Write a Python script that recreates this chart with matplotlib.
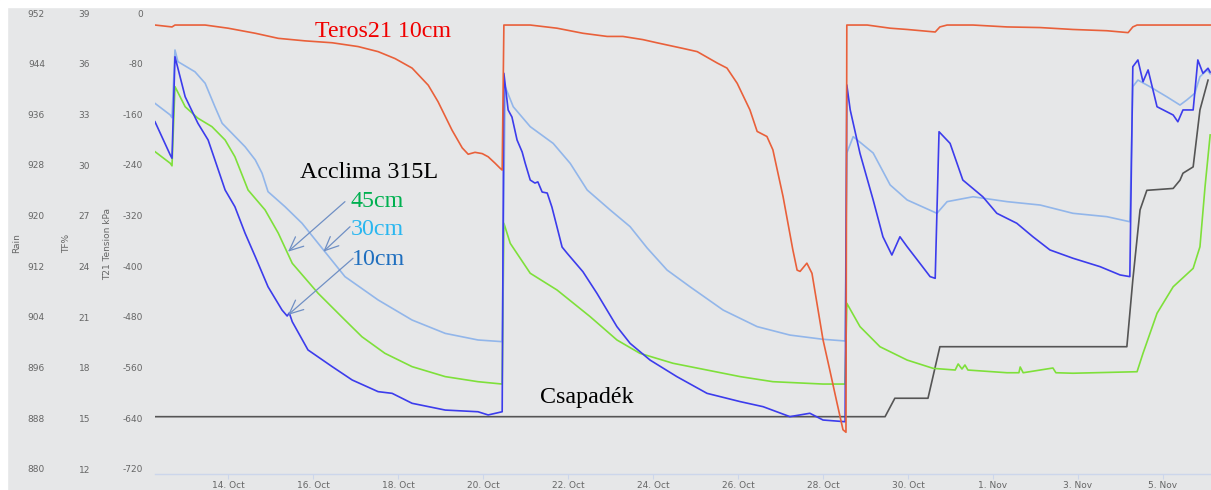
import matplotlib
matplotlib.use("Agg")
import matplotlib.pyplot as plt
from matplotlib.patches import Rectangle

plt.rcParams["axes.unicode_minus"] = False

# time axis: day counted from 1 Oct (32 = 1 Nov)
teros_day = [12.28, 12.68, 12.75, 13.46, 14.00, 14.64, 15.18, 15.81, 16.45, 17.06, 17.53, 17.93,
             18.33, 18.71, 18.94, 19.27, 19.51, 19.65, 19.81, 19.98, 20.12, 20.28, 20.40, 20.45,
             20.49, 21.11, 21.74, 22.35, 22.92, 23.29, 23.76, 24.09, 24.71, 25.04, 25.51, 25.74,
             25.98, 26.28, 26.45, 26.68, 26.82, 27.06, 27.29, 27.39, 27.46, 27.62, 27.74, 28.00,
             28.16, 28.33, 28.47, 28.54, 28.56, 29.04, 29.58, 29.98, 30.64, 30.75, 30.92, 31.53,
             32.33, 33.11, 33.88, 34.68, 35.18, 35.29, 35.39, 37.11]
teros_kpa = [-19, -22, -19, -19, -24, -32, -40, -44, -47, -53, -61, -72,
             -87, -114, -140, -185, -213, -223, -220, -222, -227, -237, -245, -248,
             -19, -19, -24, -32, -37, -37, -42, -47, -56, -61, -79, -87,
             -111, -153, -187, -195, -216, -290, -374, -406, -408, -395, -411, -516,
             -564, -616, -658, -662, -19, -19, -24, -26, -30, -22, -19, -19,
             -22, -23, -26, -28, -31, -22, -19, -19]

tf30_day = [12.28, 12.64, 12.68, 12.75, 12.82, 13.22, 13.46, 13.69, 13.86, 14.09, 14.40, 14.64,
            14.80, 14.94, 15.34, 15.74, 16.12, 16.75, 17.53, 18.33, 19.11, 19.88, 20.45, 20.52,
            20.71, 21.11, 21.65, 22.05, 22.45, 22.99, 23.46, 23.86, 24.33, 24.87, 25.65, 26.45,
            27.22, 28.00, 28.52, 28.56, 28.71, 29.18, 29.58, 29.98, 30.68, 30.92, 31.53, 32.33,
            33.11, 33.88, 34.68, 35.22, 35.29, 35.41, 35.69, 36.09, 36.40, 36.56, 36.75, 36.87,
            37.04, 37.11]
tf30_val = [33.65, 32.96, 32.80, 36.81, 36.12, 35.52, 34.84, 33.45, 32.47, 31.88, 31.08, 30.30,
            29.51, 28.42, 27.53, 26.55, 25.36, 23.39, 22.01, 20.82, 20.03, 19.64, 19.54, 34.64,
            33.45, 32.27, 31.28, 30.10, 28.52, 27.34, 26.35, 25.09, 23.78, 22.79, 21.41, 20.43,
            19.93, 19.68, 19.58, 30.71, 31.68, 30.71, 28.82, 27.93, 27.14, 27.83, 28.12, 27.83,
            27.63, 27.14, 26.94, 26.64, 34.64, 35.03, 34.64, 34.04, 33.55, 33.85, 34.25, 35.23,
            35.63, 35.40]

tf10_day = [12.28, 12.64, 12.68, 12.75, 12.99, 13.29, 13.53, 13.69, 13.93, 14.16, 14.40, 14.64,
            14.94, 15.27, 15.39, 15.44, 15.51, 15.88, 16.45, 16.92, 17.53, 17.86, 18.33, 19.11,
            19.88, 20.12, 20.45, 20.49, 20.59, 20.68, 20.80, 20.92, 20.99, 21.11, 21.22, 21.29,
            21.39, 21.51, 21.62, 21.74, 21.86, 21.98, 22.35, 22.68, 23.15, 23.46, 23.93, 24.56,
            25.27, 26.05, 26.59, 27.22, 27.69, 28.00, 28.52, 28.56, 28.64, 28.87, 29.18, 29.41,
            29.62, 29.81, 29.98, 30.28, 30.52, 30.64, 30.73, 30.99, 31.29, 31.76, 32.09, 32.56,
            32.94, 33.34, 33.88, 34.52, 34.99, 35.22, 35.29, 35.41, 35.53, 35.65, 35.86, 36.24,
            36.35, 36.47, 36.71, 36.82, 36.94, 37.06, 37.11]
tf10_val = [32.56, 30.59, 30.40, 36.41, 34.04, 32.47, 31.48, 30.30, 28.52, 27.53, 25.96, 24.57,
            22.79, 21.41, 21.06, 21.24, 20.72, 19.05, 18.06, 17.27, 16.58, 16.48, 15.89, 15.49,
            15.39, 15.20, 15.39, 35.43, 33.26, 32.84, 31.48, 30.77, 30.12, 29.11, 28.93, 29.00,
            28.40, 28.34, 27.51, 26.33, 25.14, 24.77, 23.68, 22.40, 20.43, 19.44, 18.45, 17.47,
            16.48, 15.99, 15.69, 15.10, 15.30, 14.90, 14.80, 34.74, 33.26, 30.69, 27.93, 25.75,
            24.67, 25.75, 25.16, 24.18, 23.39, 23.29, 31.97, 31.28, 29.11, 28.12, 27.14, 26.55,
            25.75, 24.97, 24.48, 23.98, 23.49, 23.39, 35.82, 36.22, 34.93, 35.63, 33.45, 32.96,
            32.56, 33.26, 33.26, 36.22, 35.43, 35.73, 35.50]

tf45_day = [12.28, 12.64, 12.68, 12.75, 12.99, 13.29, 13.62, 13.93, 14.16, 14.47, 14.87, 15.18,
            15.51, 16.12, 16.75, 17.15, 17.69, 18.33, 19.11, 19.88, 20.45, 20.49, 20.64, 21.11,
            21.74, 22.52, 23.15, 23.69, 24.47, 25.27, 26.05, 26.82, 28.00, 28.52, 28.56, 28.87,
            29.34, 29.98, 30.59, 31.11, 31.18, 31.27, 31.34, 31.41, 32.33, 32.61, 32.64, 32.71,
            33.41, 33.48, 33.88, 35.39, 35.53, 35.86, 36.24, 36.71, 36.87, 36.99, 37.11]
tf45_val = [30.79, 30.10, 29.95, 34.64, 33.45, 32.77, 32.27, 31.48, 30.49, 28.52, 27.34, 25.97,
            24.18, 22.40, 20.82, 19.83, 18.85, 18.06, 17.47, 17.17, 17.03, 26.55, 25.36, 23.59,
            22.60, 21.02, 19.64, 18.85, 18.26, 17.86, 17.47, 17.17, 17.03, 17.03, 21.81, 20.43,
            19.24, 18.45, 17.96, 17.86, 18.22, 17.92, 18.16, 17.86, 17.70, 17.70, 18.04, 17.70,
            17.98, 17.70, 17.67, 17.76, 18.85, 21.22, 22.79, 23.88, 25.16, 28.72, 31.78]

rain_day = [12.28, 29.46, 29.69, 30.47, 30.75, 35.15, 35.29, 35.46, 35.62, 36.24, 36.40, 36.47,
            36.71, 36.87, 37.06]
rain_mm = [888.26, 888.26, 891.17, 891.17, 899.31, 899.31, 909.84, 920.9, 924.0, 924.3, 925.6,
           926.7, 927.7, 936.7, 941.4]

tick_days = [14, 16, 18, 20, 22, 24, 26, 28, 30, 32, 34, 36]
tick_labels = ["14. Oct", "16. Oct", "18. Oct", "20. Oct", "22. Oct", "24. Oct", "26. Oct",
               "28. Oct", "30. Oct", "1. Nov", "3. Nov", "5. Nov"]
tension_ticks = list(range(-720, 1, 80))
tf_ticks = list(range(12, 40, 3))
rain_ticks = list(range(880, 953, 8))

grey = "#666666"
fig = plt.figure(figsize=(12.11, 4.90), dpi=100)
fig.patch.set_facecolor("#e6e7e8")
fig.add_artist(Rectangle((0, 0), 7 / 1211, 1, transform=fig.transFigure, color="white"))
fig.add_artist(Rectangle((0, 483 / 490), 1, 7 / 490, transform=fig.transFigure, color="white"))

ax = fig.add_axes([155 / 1211, 16 / 490, 1056 / 1211, 461 / 490])
ax_tf = ax.twinx()
ax_rain = ax.twinx()
ax.set_zorder(3)
ax_tf.set_zorder(2)
ax_rain.set_zorder(1)
for a in (ax, ax_tf, ax_rain):
    a.patch.set_visible(False)
    for s in a.spines.values():
        s.set_visible(False)

# lines
ax_rain.plot(rain_day, rain_mm, color="#555555", lw=1.2)
ax_tf.plot(tf45_day, tf45_val, color="#7ee03a", lw=1.2)
ax_tf.plot(tf30_day, tf30_val, color="#92b6ea", lw=1.2)
ax_tf.plot(tf10_day, tf10_val, color="#3c3cec", lw=1.2)
ax.plot(teros_day, teros_kpa, color="#e9603a", lw=1.2)

# x axis
ax.set_xlim(12.28, 37.13)
ax.set_xticks(tick_days, tick_labels)
ax.spines["bottom"].set_visible(True)
ax.spines["bottom"].set_color("#ccd6eb")
ax.spines["bottom"].set_linewidth(1)
ax.tick_params(axis="x", length=3.6, width=0.8, color="#ccd6eb", pad=1.4,
               labelsize=6.5, labelcolor=grey)

# three y axes on the left
ax.set_ylim(-727.9, 0)
ax.set_yticks(tension_ticks)
ax.tick_params(axis="y", length=0, pad=8.6, labelsize=6.5, labelcolor=grey)
ax.set_ylabel("T21 Tension kPa", fontsize=6.5, color=grey, va="center")
ax.yaxis.set_label_coords(-0.0445, 0.5)

ax_tf.set_ylim(11.704, 39)
ax_tf.yaxis.tick_left()
ax_tf.yaxis.set_label_position("left")
ax_tf.spines["left"].set_position(("outward", 38.2))
ax_tf.set_yticks(tf_ticks)
ax_tf.tick_params(axis="y", length=0, pad=8.6, labelsize=6.5, labelcolor=grey)
ax_tf.set_ylabel("TF%", fontsize=6.5, color=grey, va="center")
ax_tf.yaxis.set_label_coords(-0.0833, 0.5)

ax_rain.set_ylim(879.21, 952)
ax_rain.yaxis.tick_left()
ax_rain.yaxis.set_label_position("left")
ax_rain.spines["left"].set_position(("outward", 70.6))
ax_rain.set_yticks(rain_ticks)
ax_rain.tick_params(axis="y", length=0, pad=8.6, labelsize=6.5, labelcolor=grey)
ax_rain.set_ylabel("Rain", fontsize=6.5, color=grey, va="center")
ax_rain.yaxis.set_label_coords(-0.1307, 0.5)

# annotations
serif = "Liberation Serif"
ax.text(16.05, -37.9, "Teros21 10cm", color="#f00000", fontsize=17.3, family=serif)
ax.text(15.69, -260.5, "Acclima 315L", color="black", fontsize=17.3, family=serif)
ax.text(16.87, -305.8, "45cm", color="#00b050", fontsize=17.3, family=serif)
ax.text(16.89, -350.5, "30cm", color="#2ab7f0", fontsize=17.3, family=serif)
ax.text(16.92, -397.9, "10cm", color="#1f6fbf", fontsize=17.3, family=serif)
ax.text(21.34, -616.3, "Csapadék", color="black", fontsize=17.3, family=serif)

arrow = dict(arrowstyle="->,head_length=1.0,head_width=0.45", color="#6f8fc4", lw=0.9,
             shrinkA=0, shrinkB=0)
ax.annotate("", xy=(15.41, -376.9), xytext=(16.75, -297.9), arrowprops=arrow)
ax.annotate("", xy=(16.24, -376.9), xytext=(16.87, -337.4), arrowprops=arrow)
ax.annotate("", xy=(15.41, -476.8), xytext=(16.94, -387.3), arrowprops=arrow)

fig.savefig("out.png", dpi=100, facecolor=fig.get_facecolor())
